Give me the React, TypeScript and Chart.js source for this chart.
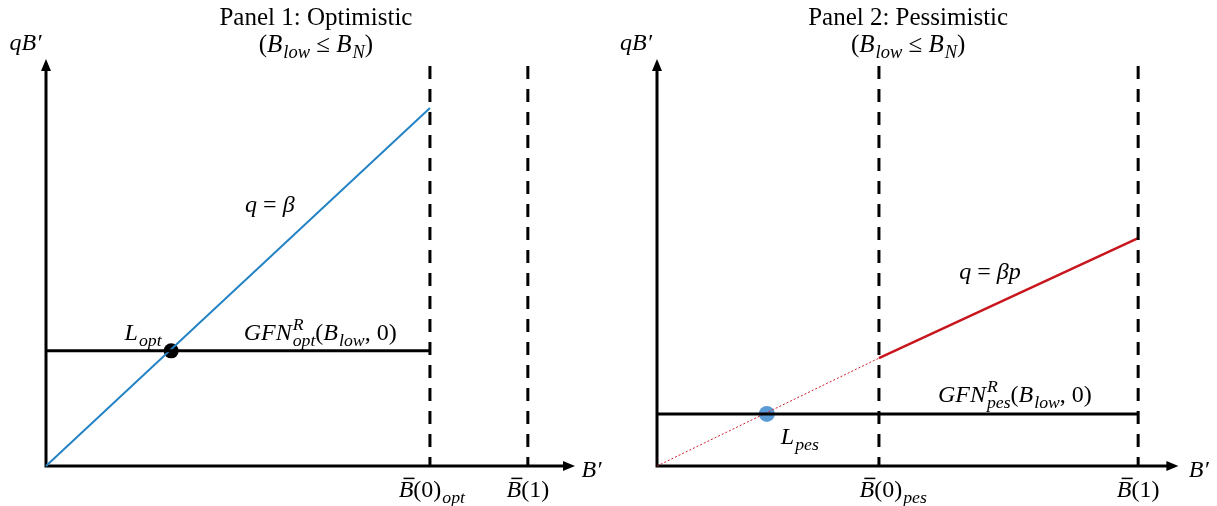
import React, { useEffect, useRef } from "react";
import { Chart, registerables } from "chart.js";
Chart.register(...registerables);

type Pt = { x: number; y: number };
type Seg = { t: string; it?: boolean; sub?: string; sup?: string; bar?: boolean };
type Label = { x: number; y: number; segs: Seg[]; align: "left" | "center" | "right"; size: number };

// ---------- Panel 1 (optimistic) ----------
const P1_X_MAX = 1.37;
const P1_BETA_LINE: Pt[] = [{ x: 0, y: 0 }, { x: 1.0, y: 0.886 }];
const P1_GFN_LINE: Pt[] = [{ x: 0, y: 0.285 }, { x: 1.0, y: 0.285 }];
const P1_VERTICALS: number[] = [1.0, 1.255];
const P1_POINT: Pt[] = [{ x: 0.326, y: 0.285 }];

// ---------- Panel 2 (pessimistic) ----------
const P2_X_MAX = 1.35;
const P2_BETAP_DOTTED: Pt[] = [{ x: 0, y: 0 }, { x: 0.578, y: 0.267 }];
const P2_BETAP_SOLID: Pt[] = [{ x: 0.578, y: 0.267 }, { x: 1.253, y: 0.564 }];
const P2_GFN_LINE: Pt[] = [{ x: 0, y: 0.129 }, { x: 1.253, y: 0.129 }];
const P2_VERTICALS: number[] = [0.578, 1.253];
const P2_POINT: Pt[] = [{ x: 0.286, y: 0.129 }];

const V_TOP = 0.99;

// ---------- Texts ----------
const P1_TITLE = "Panel 1: Optimistic";
const P2_TITLE = "Panel 2: Pessimistic";
const SUBTITLE: Seg[] = [{ t: "(" }, { t: "B", it: true, sub: "low" }, { t: " ≤ " }, { t: "B", it: true, sub: "N" }, { t: ")" }];

const P1_LABELS: Label[] = [
  { x: -0.012, y: 1.03, segs: [{ t: "qB′", it: true }], align: "right", size: 24 },
  { x: 1.395, y: -0.027, segs: [{ t: "B′", it: true }], align: "left", size: 24 },
  { x: 1.005, y: -0.077, segs: [{ t: "B", it: true, bar: true }, { t: "(0)", sub: "opt" }], align: "center", size: 24 },
  { x: 1.255, y: -0.077, segs: [{ t: "B", it: true, bar: true }, { t: "(1)" }], align: "center", size: 24 },
  { x: 0.583, y: 0.629, segs: [{ t: "q", it: true }, { t: " = " }, { t: "β", it: true }], align: "center", size: 24 },
  { x: 0.253, y: 0.312, segs: [{ t: "L", it: true, sub: "opt" }], align: "center", size: 24 },
  { x: 0.714, y: 0.312, segs: [{ t: "GFN", it: true, sup: "R", sub: "opt" }, { t: "(" }, { t: "B", it: true, sub: "low" }, { t: ", 0)" }], align: "center", size: 24 },
];

const P2_LABELS: Label[] = [
  { x: -0.013, y: 1.03, segs: [{ t: "qB′", it: true }], align: "right", size: 24 },
  { x: 1.385, y: -0.027, segs: [{ t: "B′", it: true }], align: "left", size: 24 },
  { x: 0.615, y: -0.077, segs: [{ t: "B", it: true, bar: true }, { t: "(0)", sub: "pes" }], align: "center", size: 24 },
  { x: 1.253, y: -0.077, segs: [{ t: "B", it: true, bar: true }, { t: "(1)" }], align: "center", size: 24 },
  { x: 0.867, y: 0.463, segs: [{ t: "q", it: true }, { t: " = " }, { t: "βp", it: true }], align: "center", size: 24 },
  { x: 0.372, y: 0.054, segs: [{ t: "L", it: true, sub: "pes" }], align: "center", size: 24 },
  { x: 0.932, y: 0.158, segs: [{ t: "GFN", it: true, sup: "R", sub: "pes" }, { t: "(" }, { t: "B", it: true, sub: "low" }, { t: ", 0)" }], align: "center", size: 24 },
];

const FONT = '"Liberation Serif", "DejaVu Serif", serif';
const fnt = (size: number, it?: boolean) => `${it ? "italic " : ""}${size}px ${FONT}`;

function segWidth(ctx: CanvasRenderingContext2D, s: Seg, size: number) {
  ctx.font = fnt(size, s.it);
  let w = ctx.measureText(s.t).width;
  if (s.sub || s.sup) {
    ctx.font = fnt(size * 0.74, true);
    const a = s.sub ? ctx.measureText(s.sub).width : 0;
    const b = s.sup ? ctx.measureText(s.sup).width : 0;
    w += Math.max(a, b) + 1;
  }
  return w;
}

function drawRich(ctx: CanvasRenderingContext2D, segs: Seg[], x: number, y: number, align: string, size: number) {
  const widths = segs.map((s) => segWidth(ctx, s, size));
  const total = widths.reduce((a, b) => a + b, 0);
  let cx = align === "left" ? x : align === "center" ? x - total / 2 : x - total;
  ctx.save();
  ctx.textAlign = "left";
  ctx.textBaseline = "alphabetic";
  ctx.fillStyle = "#000";
  ctx.strokeStyle = "#000";
  segs.forEach((s, i) => {
    ctx.font = fnt(size, s.it);
    ctx.fillText(s.t, cx, y);
    const mw = ctx.measureText(s.t).width;
    if (s.bar) {
      ctx.lineWidth = 1.5;
      ctx.beginPath();
      ctx.moveTo(cx + size * 0.2, y - size * 0.78);
      ctx.lineTo(cx + mw + size * 0.05, y - size * 0.78);
      ctx.stroke();
    }
    if (s.sub || s.sup) {
      ctx.font = fnt(size * 0.74, true);
      if (s.sub) ctx.fillText(s.sub, cx + mw + 1, y + size * 0.25);
      if (s.sup) ctx.fillText(s.sup, cx + mw + 1, y - size * 0.42);
    }
    cx += widths[i];
  });
  ctx.restore();
}

function decorPlugin(title: string, titleX: number, labels: Label[], xMax: number) {
  return {
    id: "decor",
    beforeDatasetsDraw(chart: any) {
      const ctx: CanvasRenderingContext2D = chart.ctx;
      const xs = chart.scales.x;
      const ys = chart.scales.y;
      const x0 = xs.getPixelForValue(0);
      const y0 = ys.getPixelForValue(0);
      const yTop = ys.getPixelForValue(1) - 3;
      const xEnd = xs.getPixelForValue(xMax) + 3;
      ctx.save();
      ctx.strokeStyle = "#000";
      ctx.fillStyle = "#000";
      ctx.lineWidth = 3;
      ctx.beginPath();
      ctx.moveTo(x0, y0 + 1.5);
      ctx.lineTo(x0, yTop + 10);
      ctx.moveTo(x0 - 1.5, y0);
      ctx.lineTo(xEnd - 10, y0);
      ctx.stroke();
      ctx.beginPath();
      ctx.moveTo(x0, yTop);
      ctx.lineTo(x0 - 5, yTop + 12);
      ctx.lineTo(x0 + 5, yTop + 12);
      ctx.closePath();
      ctx.fill();
      ctx.beginPath();
      ctx.moveTo(xEnd, y0);
      ctx.lineTo(xEnd - 12, y0 - 5);
      ctx.lineTo(xEnd - 12, y0 + 5);
      ctx.closePath();
      ctx.fill();
      ctx.restore();
    },
    afterDatasetsDraw(chart: any) {
      const ctx: CanvasRenderingContext2D = chart.ctx;
      const xs = chart.scales.x;
      const ys = chart.scales.y;
      const tx = xs.getPixelForValue(titleX);
      ctx.save();
      ctx.font = fnt(25);
      ctx.fillStyle = "#000";
      ctx.textAlign = "center";
      ctx.textBaseline = "alphabetic";
      ctx.fillText(title, tx, 25);
      ctx.restore();
      drawRich(ctx, SUBTITLE, tx, 52, "center", 25);
      labels.forEach((l) => drawRich(ctx, l.segs, xs.getPixelForValue(l.x), ys.getPixelForValue(l.y), l.align, l.size));
    },
  };
}

const line = (data: Pt[], color: string, width: number, dash: number[] = []) => ({
  data,
  showLine: true,
  borderColor: color,
  borderWidth: width,
  borderDash: dash,
  pointRadius: 0,
  fill: false,
  tension: 0,
  clip: false as any,
});

const vline = (x: number) => line([{ x, y: V_TOP }, { x, y: 0 }], "#000", 3, [13, 10]);

const dot = (data: Pt[], color: string, r: number) => ({
  data,
  showLine: false,
  pointRadius: r,
  pointBackgroundColor: color,
  pointBorderColor: color,
  pointBorderWidth: 0,
  clip: false as any,
});

function makeChart(canvas: HTMLCanvasElement, datasets: any[], xMax: number, padL: number, padR: number, plugin: any) {
  return new Chart(canvas, {
    type: "scatter",
    data: { datasets },
    options: {
      animation: false,
      responsive: false,
      maintainAspectRatio: false,
      events: [],
      layout: { padding: { left: padL, right: padR, top: 62, bottom: 40 } },
      scales: {
        x: { type: "linear", min: 0, max: xMax, display: false },
        y: { type: "linear", min: 0, max: 1, display: false },
      },
      plugins: { legend: { display: false }, tooltip: { enabled: false }, title: { display: false } },
    },
    plugins: [plugin],
  } as any);
}

export default function App() {
  const r1 = useRef<HTMLCanvasElement>(null);
  const r2 = useRef<HTMLCanvasElement>(null);
  useEffect(() => {
    const c1 = makeChart(
      r1.current!,
      [
        ...P1_VERTICALS.map(vline),
        line(P1_GFN_LINE, "#000", 3),
        line(P1_BETA_LINE, "#2483C5", 2),
        dot(P1_POINT, "#000", 7.5),
      ],
      P1_X_MAX,
      46,
      36,
      decorPlugin(P1_TITLE, 0.703, P1_LABELS, P1_X_MAX)
    );
    const c2 = makeChart(
      r2.current!,
      [
        ...P2_VERTICALS.map(vline),
        line(P2_GFN_LINE, "#000", 3),
        line(P2_BETAP_DOTTED, "#D0202A", 1, [2, 2]),
        line(P2_BETAP_SOLID, "#C8161E", 2.5),
        dot(P2_POINT, "#5B9BD5", 8),
      ],
      P2_X_MAX,
      49,
      609 - 49 - 384 * P2_X_MAX,
      decorPlugin(P2_TITLE, 0.654, P2_LABELS, P2_X_MAX)
    );
    return () => {
      c1.destroy();
      c2.destroy();
    };
  }, []);
  return (
    <div style={{ position: "absolute", left: 0, top: 0, width: 1217, height: 506, background: "#fff", overflow: "hidden" }}>
      <canvas ref={r1} width={608} height={506} style={{ position: "absolute", left: 0, top: 0, display: "block" }} />
      <canvas ref={r2} width={609} height={506} style={{ position: "absolute", left: 608, top: 0, display: "block" }} />
    </div>
  );
}
